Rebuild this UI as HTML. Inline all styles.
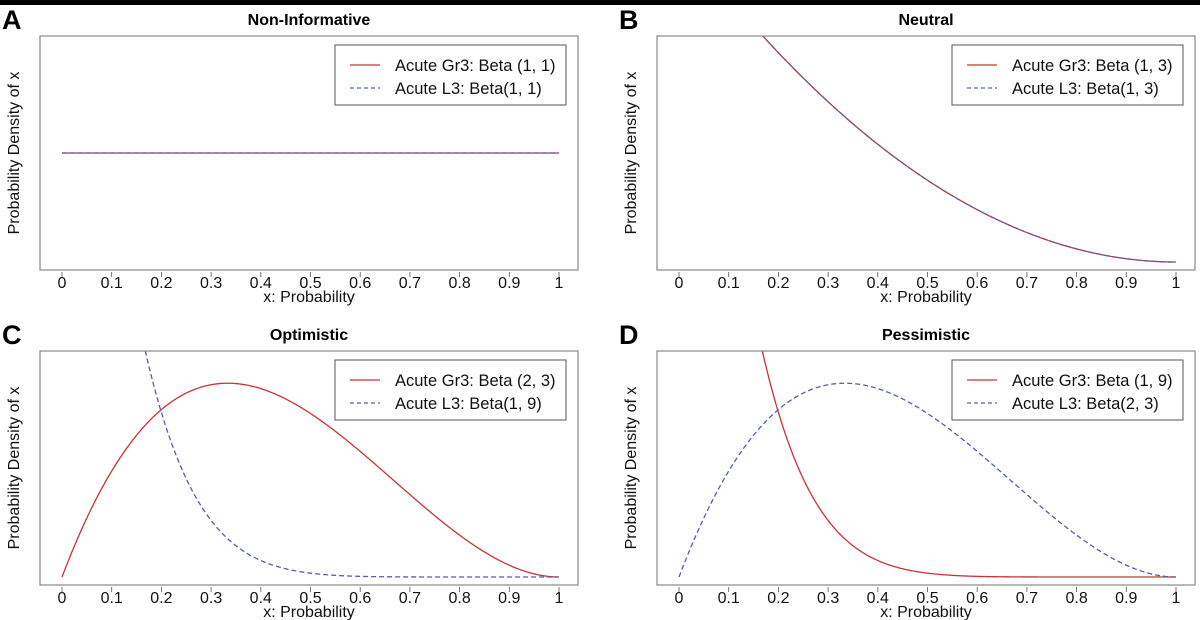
<!DOCTYPE html>
<html><head><meta charset="utf-8">
<style>
html,body{margin:0;padding:0;background:#fff;}
svg{display:block;font-family:"Liberation Sans",Arial,sans-serif;}
</style></head>
<body>
<svg id="fig" width="1200" height="620" viewBox="0 0 1200 620" xmlns="http://www.w3.org/2000/svg">
<rect x="0" y="0" width="1200" height="5" fill="#000"/>
</svg>
<script>
// Chart data
const panelLetters = ["A","B","C","D"];
const panelTitles = ["Non-Informative","Neutral","Optimistic","Pessimistic"];
const gr3Alpha = [1, 1, 2, 1];
const gr3Beta  = [1, 3, 3, 9];
const l3Alpha  = [1, 1, 1, 2];
const l3Beta   = [1, 3, 9, 3];
const gr3Labels = ["Acute Gr3: Beta (1, 1)","Acute Gr3: Beta (1, 3)","Acute Gr3: Beta (2, 3)","Acute Gr3: Beta (1, 9)"];
const l3Labels  = ["Acute L3: Beta(1, 1)","Acute L3: Beta(1, 3)","Acute L3: Beta(1, 9)","Acute L3: Beta(2, 3)"];
const xTicks = [0,0.1,0.2,0.3,0.4,0.5,0.6,0.7,0.8,0.9,1];
const xTickLabels = ["0","0.1","0.2","0.3","0.4","0.5","0.6","0.7","0.8","0.9","1"];

const NS = "http://www.w3.org/2000/svg";
const svg = document.getElementById("fig");
function mk(tag, attrs, parent){
  const e = document.createElementNS(NS, tag);
  for (const k in attrs) e.setAttribute(k, attrs[k]);
  (parent||svg).appendChild(e);
  return e;
}
function lgamma(z){
  const g=7, c=[0.99999999999980993,676.5203681218851,-1259.1392167224028,771.32342877765313,-176.61502916214059,12.507343278686905,-0.13857109526572012,9.9843695780195716e-6,1.5056327351493116e-7];
  z-=1; let x=c[0]; for(let i=1;i<9;i++) x+=c[i]/(z+i);
  const t=z+g+0.5; return 0.5*Math.log(2*Math.PI)+(z+0.5)*Math.log(t)-t+Math.log(x);
}
function dbeta(x,a,b){
  if (x<=0) return a===1 ? b : (a<1?Infinity:0);
  if (x>=1) return b===1 ? a : (b<1?Infinity:0);
  return Math.exp((a-1)*Math.log(x)+(b-1)*Math.log(1-x)+lgamma(a+b)-lgamma(a)-lgamma(b));
}

const panels = [
  {ox:0, oy:0}, {ox:617, oy:0}, {ox:0, oy:315}, {ox:617, oy:315}
];
panels.forEach((p, i) => {
  const g = mk("g", {});
  
  
  const bx = 40 + p.ox, by = 36 + p.oy, bw = 538, bh = 234;
  const xS = v => 62 + p.ox + v * 497;
  const yS = v => 262 + p.oy - v * 109;

  const letter = mk("text", {x: 2 + p.ox, y: 29 + p.oy, "font-size": 27, "font-weight": "bold"}, g);
  letter.textContent = panelLetters[i];
  
  

  const title = mk("text", {x: bx + bw/2, y: 25 + p.oy, "font-size": 16, "font-weight": "bold", "text-anchor": "middle"}, g);
  title.textContent = panelTitles[i];
  
  

  const cid = "clip" + i;
  const cp = mk("clipPath", {id: cid}, g);
  mk("rect", {x: bx, y: by, width: bw, height: bh}, cp);

  const series = [
    {a: gr3Alpha[i], b: gr3Beta[i], stroke: "#cc3333", dash: "", name: "gr3-curve"},
    {a: l3Alpha[i], b: l3Beta[i], stroke: "#5560a8", dash: "5,3", name: "l3-curve"}
  ];
  series.forEach(s => {
    let d = "";
    for (let k = 0; k <= 400; k++) {
      const x = k / 400;
      let y = dbeta(x, s.a, s.b);
      if (!isFinite(y)) y = 50;
      y = Math.min(y, 50);
      d += (k ? "L" : "M") + xS(x).toFixed(2) + "," + yS(y).toFixed(2);
    }
    const path = mk("path", {d: d, fill: "none", stroke: s.stroke, "stroke-width": 1.3, "stroke-dasharray": s.dash, "clip-path": "url(#" + cid + ")"}, g);
    
    
  });

  const box = mk("rect", {x: bx, y: by, width: bw, height: bh, fill: "none", stroke: "#888", "stroke-width": 1.2}, g);
  
  

  xTicks.forEach((t, k) => {
    const tk = mk("line", {x1: xS(t), x2: xS(t), y1: by + bh + 2, y2: by + bh + 7, stroke: "#555", "stroke-width": 0.8}, g);
    
    
    const tl = mk("text", {x: xS(t), y: by + bh + 18, "font-size": 16, "text-anchor": "middle", fill: "#111"}, g);
    tl.textContent = xTickLabels[k];
    
    
  });

  const xt = mk("text", {x: bx + bw/2, y: by + bh + 32, "font-size": 16, "text-anchor": "middle", fill: "#111"}, g);
  xt.textContent = "x: Probability";
  
  

  const yt = mk("text", {x: 0, y: 0, "font-size": 16, "text-anchor": "middle", fill: "#111", transform: "translate(" + (19 + p.ox) + "," + (by + bh/2) + ") rotate(-90)"}, g);
  yt.textContent = "Probability Density of x";
  
  

  const lx = 335 + p.ox, ly = 45 + p.oy;
  const lg = mk("g", {}, g);
  
  
  mk("rect", {x: lx, y: ly, width: 231, height: 60, fill: "#fff", stroke: "#555", "stroke-width": 1}, lg);
  const labels = [gr3Labels[i], l3Labels[i]];
  series.forEach((s, k) => {
    const yy = ly + 20 + k * 23;
    const ln = mk("line", {x1: lx + 15, x2: lx + 45, y1: yy, y2: yy, stroke: s.stroke, "stroke-width": 1.3, "stroke-dasharray": s.dash ? "4,3" : ""}, lg);
    
    
    const tx = mk("text", {x: lx + 60, y: yy + 6, "font-size": 16.5, fill: "#111"}, lg);
    tx.textContent = labels[k];
    
    
  });
});
</script>
</body></html>
